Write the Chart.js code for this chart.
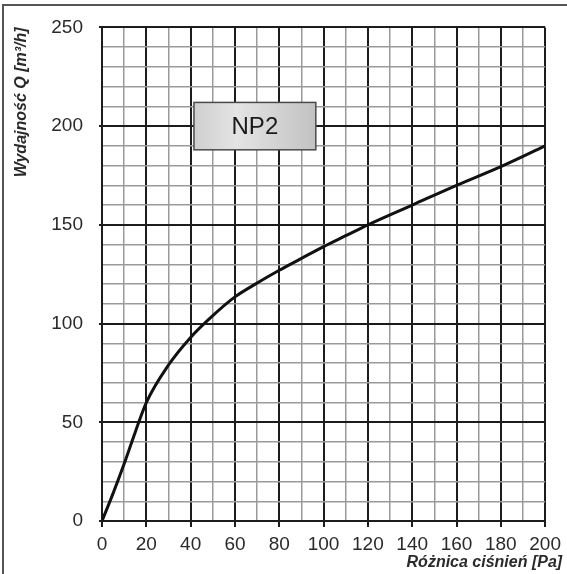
<!DOCTYPE html>
<html>
<head>
<meta charset="utf-8">
<script src="https://cdn.jsdelivr.net/npm/chart.js@4/dist/chart.umd.min.js"></script>
<style>
  html, body { margin: 0; padding: 0; background: #fff; }
  #wrap { position: relative; width: 567px; height: 574px; }
</style>
</head>
<body>
<div id="wrap"><canvas id="chart" width="567" height="574"></canvas></div>
<script>
// Pressure difference [Pa] and corresponding airflow [m³/h]
const pressure = [0, 5, 10, 15, 20, 30, 40, 50, 60, 70, 80, 90, 100, 110, 120, 140, 160, 180, 200];
const flow     = [0, 14, 29, 45, 60, 79, 93, 104, 113.5, 120.5, 127, 133, 139, 144.5, 150, 160, 170, 179.5, 190];

const xTicksMajor = [0, 20, 40, 60, 80, 100, 120, 140, 160, 180, 200];
const yTicksMajor = [0, 50, 100, 150, 200, 250];

const seriesLabel = 'NP2';
const yTitle = 'Wydajność Q [m³/h]';
const xTitle = 'Różnica ciśnień [Pa]';

const MAJOR = '#1c1c1c';
const MINOR = '#9a9a9a';
const TEXT = '#2a2a2a';

// Outer frame (top and left edges) plus the x-axis title
const framePlugin = {
  id: 'frame',
  beforeDraw(chart) {
    const ctx = chart.ctx;
    ctx.save();
    ctx.fillStyle = '#fff';
    ctx.fillRect(0, 0, chart.width, chart.height);
    ctx.strokeStyle = '#555';
    ctx.lineWidth = 2;
    ctx.beginPath();
    ctx.moveTo(chart.width, 5);
    ctx.lineTo(3, 5);
    ctx.lineTo(3, chart.height);
    ctx.stroke();
    ctx.restore();
  },
  afterDraw(chart) {
    const ctx = chart.ctx;
    const area = chart.chartArea;
    ctx.save();
    ctx.font = 'italic bold 16px "Liberation Sans", Arial, sans-serif';
    ctx.fillStyle = TEXT;
    ctx.textAlign = 'right';
    ctx.textBaseline = 'middle';
    ctx.fillText(xTitle, area.right + 17, chart.height - 11);
    ctx.restore();
  }
};

// Series name box placed in data coordinates
const labelBoxPlugin = {
  id: 'labelBox',
  afterDatasetsDraw(chart, args, opts) {
    const { x, y } = chart.scales;
    const left = x.getPixelForValue(opts.from[0]);
    const right = x.getPixelForValue(opts.to[0]);
    const top = y.getPixelForValue(opts.from[1]);
    const bottom = y.getPixelForValue(opts.to[1]);
    const ctx = chart.ctx;
    ctx.save();
    const g = ctx.createLinearGradient(left, 0, right, 0);
    g.addColorStop(0, '#cfcfcf');
    g.addColorStop(0.35, '#e4e4e4');
    g.addColorStop(1, '#c2c2c2');
    ctx.fillStyle = g;
    ctx.fillRect(left, top, right - left, bottom - top);
    ctx.strokeStyle = '#4a4a4a';
    ctx.lineWidth = 1.5;
    ctx.strokeRect(left, top, right - left, bottom - top);
    ctx.fillStyle = '#1a1a1a';
    ctx.font = '24px "Liberation Sans", Arial, sans-serif';
    ctx.textAlign = 'center';
    ctx.textBaseline = 'middle';
    ctx.fillText(opts.text, (left + right) / 2, (top + bottom) / 2 + 1);
    ctx.restore();
  }
};

const isMajor = (list, v) => list.includes(v);

new Chart(document.getElementById('chart'), {
  type: 'line',
  data: {
    labels: pressure,
    datasets: [{
      label: seriesLabel,
      data: pressure.map((p, i) => ({ x: p, y: flow[i] })),
      borderColor: '#111',
      borderWidth: 3,
      pointRadius: 0,
      fill: false,
      cubicInterpolationMode: 'monotone'
    }]
  },
  options: {
    responsive: false,
    animation: false,
    devicePixelRatio: 1,
    layout: { padding: { left: 9, top: 24, right: 21, bottom: 0 } },
    plugins: {
      legend: { display: false },
      tooltip: { enabled: false },
      labelBox: { text: seriesLabel, from: [41.5, 212], to: [96.5, 188] }
    },
    scales: {
      x: {
        type: 'linear',
        min: 0, max: 200,
        afterFit(scale) { scale.height = 53; },
        border: { color: MAJOR, width: 2 },
        grid: {
          color: c => isMajor(xTicksMajor, c.tick.value) ? MAJOR : MINOR,
          lineWidth: c => isMajor(xTicksMajor, c.tick.value) ? 2 : 1.5,
          tickColor: c => isMajor(xTicksMajor, c.tick.value) ? MAJOR : 'rgba(0,0,0,0)',
          tickLength: 6,
          tickWidth: 2,
          drawTicks: true
        },
        ticks: {
          stepSize: 10,
          autoSkip: false,
          maxRotation: 0,
          padding: 6,
          color: TEXT,
          font: { family: '"Liberation Sans", Arial, sans-serif', size: 19 },
          callback: v => isMajor(xTicksMajor, v) ? String(v) : ''
        }
      },
      y: {
        type: 'linear',
        min: 0, max: 250,
        afterFit(scale) { scale.width = 93; },
        border: { color: MAJOR, width: 2 },
        grid: {
          color: c => isMajor(yTicksMajor, c.tick.value) ? MAJOR : MINOR,
          lineWidth: c => isMajor(yTicksMajor, c.tick.value) ? 2 : 1.5,
          tickColor: c => isMajor(yTicksMajor, c.tick.value) ? MAJOR : 'rgba(0,0,0,0)',
          tickLength: 3,
          tickWidth: 2,
          drawTicks: true
        },
        ticks: {
          stepSize: 10,
          autoSkip: false,
          padding: 16,
          color: TEXT,
          font: { family: '"Liberation Sans", Arial, sans-serif', size: 19 },
          callback: v => isMajor(yTicksMajor, v) ? String(v) : ''
        },
        title: {
          display: true,
          text: yTitle,
          align: 'end',
          color: TEXT,
          padding: { top: 3, bottom: 0 },
          font: { family: '"Liberation Sans", Arial, sans-serif', size: 16, weight: 'bold', style: 'italic' }
        }
      }
    }
  },
  plugins: [framePlugin, labelBoxPlugin]
});
</script>
</body>
</html>
